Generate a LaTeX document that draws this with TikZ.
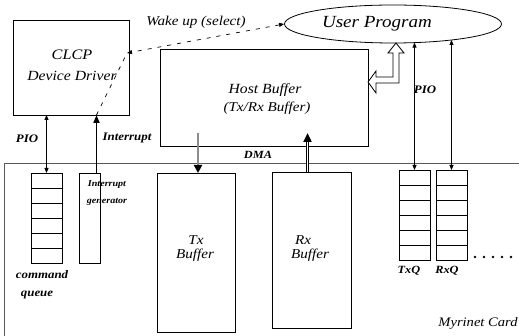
\documentclass[tikz,border=0pt]{standalone}
\usepackage{fontspec}
\setmainfont{Liberation Serif}[FakeStretch=1.12,
  ItalicFont={Liberation Serif Italic},
  BoldItalicFont={Liberation Serif Bold Italic},
  BoldFont={Liberation Serif Bold}]
\usetikzlibrary{arrows.meta,shapes.geometric}
\begin{document}
\begin{tikzpicture}[x=1pt,y=-1pt,
  box/.style={draw,line width=0.8pt,inner sep=0pt,outer sep=0pt,anchor=north west},
  txt/.style={inner sep=0pt,font=\fontsize{#1}{#1}\selectfont\itshape},
  txtb/.style={inner sep=0pt,font=\fontsize{#1}{#1}\selectfont\bfseries\itshape},
  tipB/.style={{Triangle[length=5pt,width=4pt]}-{Triangle[length=5pt,width=4pt]}},
  wakeline/.style={dash pattern=on 4pt off 6pt,line width=0.7pt},
  cardline/.style={draw=black!65,line width=1pt}]
\useasboundingbox (0,0) rectangle (519,336);

% main blocks
\node[box,minimum width=116pt,minimum height=95pt] (clcp) at (13,20) {};
\node[box,minimum width=208pt,minimum height=97pt] (host) at (160,49) {};
\node[ellipse,draw,line width=0.8pt,minimum width=217pt,minimum height=38pt,inner sep=0pt] (user) at (393,24) {};

% card outline
\coordinate (cardBL) at (4,336);
\coordinate (cardTL) at (4,164);
\coordinate (cardTR) at (519,164);
\draw[cardline] (cardBL) -- (cardTL) -- (cardTR);

% card contents
\node[box,minimum width=31pt,minimum height=90pt] (cmdq) at (31,173) {};
\foreach \k in {1,...,5}
  \draw[line width=0.7pt] ([yshift=-15*\k pt]cmdq.north west) -- ([yshift=-15*\k pt]cmdq.north east);
\node[box,minimum width=21pt,minimum height=90pt] (intgen) at (79,173) {};
\node[box,minimum width=78pt,minimum height=159pt] (tx) at (157,173) {};
\node[box,minimum width=79pt,minimum height=156pt] (rx) at (272,172) {};
\node[box,minimum width=31pt,minimum height=90pt] (txq) at (399,170) {};
\node[box,minimum width=31pt,minimum height=90pt] (rxq) at (436,170) {};
\foreach \k in {1,...,5} {
  \draw[line width=0.7pt] ([yshift=-15*\k pt]txq.north west) -- ([yshift=-15*\k pt]txq.north east);
  \draw[line width=0.7pt] ([yshift=-15*\k pt]rxq.north west) -- ([yshift=-15*\k pt]rxq.north east);
}
\foreach \i in {0,...,4}
  \fill (475+9*\i,257) circle (1.4pt);

% PIO (driver <-> command queue)
\draw[line width=0.8pt,tipB] (cmdq.north) -- (cmdq.north |- clcp.south);
% Interrupt
\coordinate (intTop) at ([xshift=7pt]intgen.north |- clcp.south);
\draw[line width=1.8pt,-{Triangle[length=8pt,width=6pt]}] ([xshift=7pt]intgen.north) -- (intTop);
% Wake up (select)
\coordinate (wk) at (127,53);
\draw[wakeline,tipB] (user.west) -- (wk);
\draw[wakeline] (intTop) -- (wk);

% DMA arrows
\coordinate (dmaTx) at (198,133);
\draw[draw=black!45,line width=2.4pt,-{Triangle[black,length=8pt,width=8pt]}] (dmaTx) -- (dmaTx |- tx.north);
\coordinate (dmaRxS) at ([xshift=-4pt]rx.north);
\coordinate (dmaRx) at (dmaRxS |- dmaTx);
\draw[line width=2.6pt,-{Triangle[length=9pt,width=8pt]}] (dmaRxS) -- (dmaRx);
\draw[white,line width=0.7pt,shorten >=9pt] (dmaRxS) -- (dmaRx);

% hollow arrow host buffer <-> user program
\draw[line width=0.8pt,fill=white]
  (368,82) -- (376,71) -- (376,77) -- (393,77) -- (393,53) -- (388,53) -- (396,43)
  -- (404,53) -- (399,53) -- (399,83) -- (376,83) -- (376,93) -- cycle;

% PIO to queues
\coordinate (uTx) at (414.5,42.6);
\coordinate (uRx) at (451.5,40);
\draw[line width=0.8pt,tipB] (txq.north) -- (uTx);
\draw[line width=0.8pt,tipB] (rxq.north) -- (uRx);

% labels
\node[txt=13.5] (lwake) at (196,22) {Wake up (select)};
\node[txt=17] (luser) at (377,24) {User Program};
\node[txt=14.5] (lclcp) at (72,55) {CLCP};
\node[txt=14] (ldd) at (72,76) {Device Driver};
\node[txt=14] (lhost) at (265,90) {Host Buffer};
\node[txt=13.5] (lhost2) at (267,108) {(Tx/Rx Buffer)};
\node[txtb=11.5] (lpio) at (27,139) {PIO};
\node[txtb=11.5] (lint) at (127,138) {Interrupt};
\node[txtb=11] (ldma) at (258,155) {DMA};
\node[txtb=9] (lig1) at (107,185) {Interrupt};
\node[txtb=9] (lig2) at (107,202) {generator};
\node[txtb=11.5] (lcq1) at (42,275) {command};
\node[txtb=11.5] (lcq2) at (37,295) {queue};
\node[txt=13.5] (ltx1) at (196,240) {Tx};
\node[txt=13.5] (ltx2) at (195,255) {Buffer};
\node[txt=13.5] (lrx1) at (303,240) {Rx};
\node[txt=13.5] (lrx2) at (310,255) {Buffer};
\node[txtb=11] (ltxq) at (409,271) {TxQ};
\node[txtb=11] (lrxq) at (447,271) {RxQ};
\node[txtb=11.5] (lpio2) at (425,90) {PIO};
\node[txt=13] (lcard) at (478,323) {Myrinet Card};
\end{tikzpicture}
\end{document}
